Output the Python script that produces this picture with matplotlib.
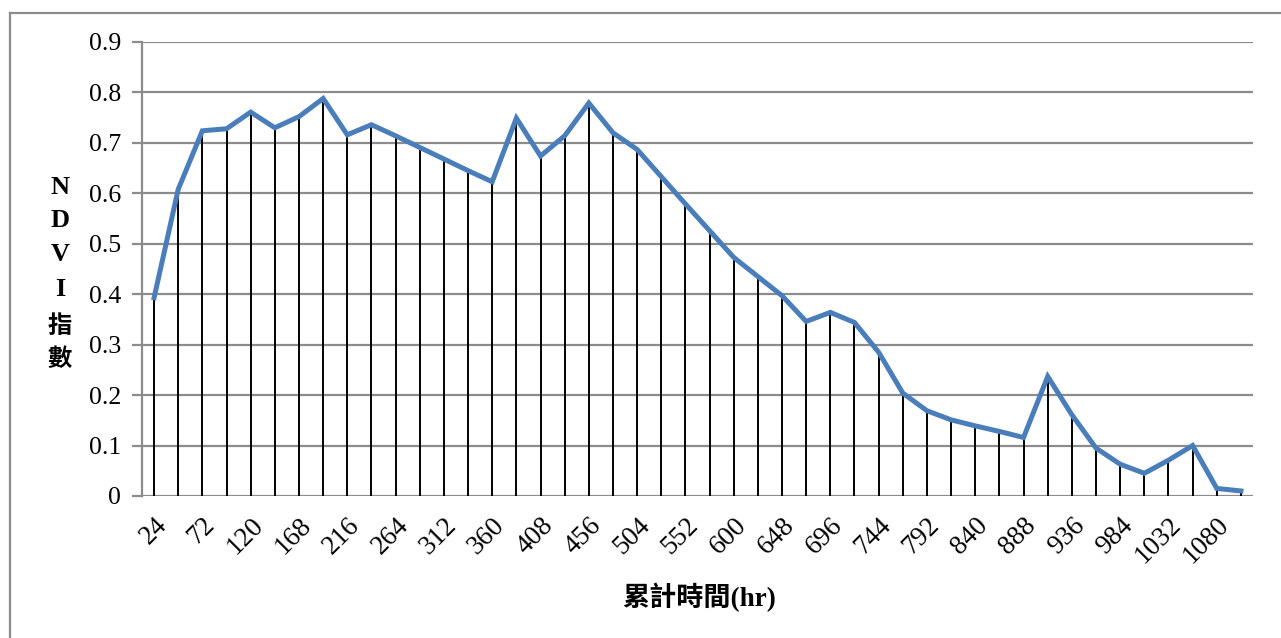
import matplotlib
matplotlib.use("Agg")
import matplotlib.pyplot as plt
from matplotlib.lines import Line2D

hours = list(range(24, 1105, 24))
ndvi = [0.393, 0.608, 0.724, 0.728, 0.761, 0.730, 0.752, 0.788, 0.716, 0.736,
        0.714, 0.691, 0.668, 0.645, 0.623, 0.749, 0.674, 0.714, 0.779, 0.720,
        0.687, 0.633, 0.579, 0.526, 0.473, 0.435, 0.397, 0.346, 0.364, 0.344,
        0.285, 0.204, 0.169, 0.151, 0.139, 0.128, 0.116, 0.237, 0.161, 0.095,
        0.063, 0.045, 0.071, 0.100, 0.015, 0.010]
tick_hours = list(range(24, 1081, 48))
yticks = [0.0, 0.1, 0.2, 0.3, 0.4, 0.5, 0.6, 0.7, 0.8, 0.9]
ytick_labels = ["0", "0.1", "0.2", "0.3", "0.4", "0.5", "0.6", "0.7", "0.8", "0.9"]
ylabel_chars = ["N", "D", "V", "I", "指", "數"]
xlabel = "累計時間(hr)"

W, H = 1281, 638
fig = plt.figure(figsize=(W / 100, H / 100), dpi=100)
fig.patch.set_facecolor("white")

ax = fig.add_axes([142 / W, 1 - 496 / H, (1253 - 142) / W, (496 - 42) / H])

grid_c = "#8c8c8c"
for y in yticks:
    ax.axhline(y, color=grid_c, lw=1.6, zorder=1)

ax.vlines(hours, 0, ndvi, colors="black", lw=1.4, zorder=2)
ax.plot(hours, ndvi, color="#4a7ebb", lw=3.6, solid_joinstyle="miter", zorder=3)

ax.set_xlim(12, 1116)
ax.set_ylim(0, 0.9)
ax.set_yticks(yticks)
ax.set_yticklabels(ytick_labels, fontfamily="Liberation Serif", fontsize=18.5)
ax.set_xticks(tick_hours)
ax.set_xticklabels([str(t) for t in tick_hours], fontfamily="Liberation Serif",
                   fontsize=19.5, rotation=45, ha="right", rotation_mode="anchor")
ax.tick_params(axis="x", length=0, pad=12)
ax.tick_params(axis="y", length=7, width=1.6, color=grid_c, pad=8)

for s in ["top", "right", "bottom"]:
    ax.spines[s].set_visible(False)
ax.spines["left"].set_color(grid_c)
ax.spines["left"].set_linewidth(1.6)

ycent = [187.5, 220.7, 255, 290, 326.7, 360]
sizes = [19, 19, 19, 19, 17.5, 17.5]
for ch, yc, fs in zip(ylabel_chars, ycent, sizes):
    fam = ["Liberation Serif", "Noto Sans CJK TC"]
    fig.text(60 / W, 1 - yc / H, ch, ha="center", va="center", fontsize=fs,
             fontweight="bold", family=fam)

fig.text(699 / W, 1 - 597 / H, xlabel, ha="center", va="center", fontsize=19.5,
         fontweight="bold", family=["Liberation Serif", "Noto Sans CJK TC"])

fig.add_artist(Line2D([10 / W, 10 / W], [0, 1 - 13 / H], color=grid_c, lw=1.6,
                      transform=fig.transFigure))
fig.add_artist(Line2D([10 / W, 1], [1 - 13 / H, 1 - 13 / H], color=grid_c, lw=1.6,
                      transform=fig.transFigure))

fig.savefig("out.png", dpi=100, facecolor="white")
